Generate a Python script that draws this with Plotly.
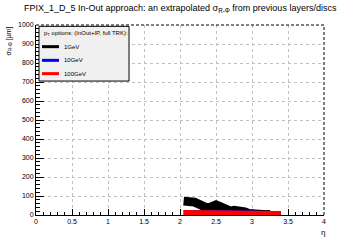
import plotly.graph_objects as go

# ---- data ----
eta_black = [2.05, 2.10, 2.15, 2.20, 2.25, 2.30, 2.35, 2.40, 2.45, 2.50, 2.55, 2.60, 2.65,
             2.70, 2.75, 2.80, 2.85, 2.90, 2.95, 3.00, 3.05, 3.10, 3.15, 3.20, 3.25]
sigma_1gev = [73, 73, 72, 68, 59, 46, 42, 37, 47, 53, 45, 32, 20,
              20, 24, 24, 24, 16, 8, 5, 3, 3, 2, 2, 2]

eta_hi = [2.05, 2.10, 2.15, 2.20, 2.25, 2.30, 2.35, 2.40, 2.45, 2.50, 2.55, 2.60, 2.65, 2.70,
          2.75, 2.80, 2.85, 2.90, 2.95, 3.00, 3.05, 3.10, 3.15, 3.20, 3.25, 3.30, 3.35, 3.40]
sigma_10gev = [10, 10, 13, 13, 10, 10, 10, 10, 10, 10, 10, 10, 13, 13,
               13, 10, 10, 10, 8, 8, 8, 5, 5, 5, 5, 5, 5, 5]
sigma_100gev = [10, 10, 10, 10, 10, 10, 10, 10, 10, 10, 10, 10, 10, 10,
                10, 10, 10, 10, 8, 8, 8, 5, 5, 5, 5, 5, 5, 5]

series_names = ["1GeV", "10GeV", "100GeV"]
series_colors = ["#000000", "#0000ff", "#ff0000"]
x_ticks = [0, 0.5, 1, 1.5, 2, 2.5, 3, 3.5, 4]
x_ticklabels = ["0", "0.5", "1", "1.5", "2", "2.5", "3", "3.5", "4"]
y_ticks = [0, 100, 200, 300, 400, 500, 600, 700, 800, 900, 1000]

FONT = "Liberation Sans, Arial, Helvetica, sans-serif"

fig = go.Figure()
fig.add_trace(go.Scatter(x=eta_black, y=sigma_1gev, mode="lines", name=series_names[0],
                         line=dict(color=series_colors[0], width=9)))
fig.add_trace(go.Scatter(x=eta_hi, y=sigma_10gev, mode="lines", name=series_names[1],
                         line=dict(color=series_colors[1], width=6)))
fig.add_trace(go.Scatter(x=eta_hi, y=sigma_100gev, mode="lines", name=series_names[2],
                         line=dict(color=series_colors[2], width=6)))

fig.update_layout(
    width=360, height=240,
    margin=dict(l=36, r=36, t=25, b=25),
    paper_bgcolor="white", plot_bgcolor="white",
    showlegend=False,
    font=dict(family=FONT, size=7, color="black"),
)

fig.update_xaxes(
    range=[0, 4], tickvals=x_ticks, ticktext=x_ticklabels,
    ticks="inside", ticklen=6, tickwidth=1, tickcolor="black",
    minor=dict(dtick=0.1, ticks="inside", ticklen=3, tickcolor="black", showgrid=False),
    showline=True, linecolor="black", linewidth=1, mirror=False,
    showgrid=True, gridcolor="#c0c0c0", griddash="dot", gridwidth=1,
    zeroline=False, tickfont=dict(size=7, family=FONT), layer="below traces",
)
fig.update_yaxes(
    range=[0, 1000], tickvals=y_ticks,
    ticks="inside", ticklen=8, tickwidth=1, tickcolor="black",
    minor=dict(dtick=20, ticks="inside", ticklen=4, tickcolor="black", showgrid=False),
    showline=True, linecolor="black", linewidth=1, mirror=False,
    showgrid=True, gridcolor="#c0c0c0", griddash="dot", gridwidth=1,
    zeroline=False, tickfont=dict(size=7, family=FONT), layer="below traces",
)

shapes = [
    # dashed top and right frame
    dict(type="line", xref="paper", yref="paper", x0=0, x1=1, y0=1, y1=1,
         line=dict(color="black", width=1, dash="3px,2px")),
    dict(type="line", xref="paper", yref="paper", x0=1, x1=1, y0=0, y1=1,
         line=dict(color="black", width=1, dash="3px,2px")),
    # legend box
    dict(type="rect", xref="paper", yref="paper", x0=0.0104, x1=0.323, y0=0.705, y1=0.993,
         fillcolor="#f0f0f0", line=dict(color="black", width=1)),
]
legend_y = [0.886, 0.814, 0.744]
annotations = [
    dict(text="FPIX_1_D_5 In-Out approach: an extrapolated σ<sub>R-Φ</sub> from previous layers/discs",
         xref="paper", yref="paper", x=0.5, y=1, yshift=17, xanchor="center", yanchor="middle",
         showarrow=False, font=dict(size=9, family=FONT)),
    dict(text="σ<sub>R-Φ</sub> [µm]", xref="paper", yref="paper", x=-0.097, y=1,
         xanchor="center", yanchor="top", textangle=-90, showarrow=False,
         font=dict(size=7, family=FONT)),
    dict(text="η", xref="paper", yref="paper", x=0.995, y=0, yshift=-17,
         xanchor="center", yanchor="middle", showarrow=False, font=dict(size=8, family=FONT)),
    dict(text="p<sub>T</sub> options: (InOut+IP, full TRK):", xref="paper", yref="paper",
         x=0.021, y=0.957, xanchor="left", yanchor="middle", showarrow=False,
         font=dict(size=6, family=FONT)),
]
for name, col, yy in zip(series_names, series_colors, legend_y):
    shapes.append(dict(type="line", xref="paper", yref="paper", x0=0.0208, x1=0.0799,
                       y0=yy, y1=yy, line=dict(color=col, width=3)))
    annotations.append(dict(text=name, xref="paper", yref="paper", x=0.09, y=yy,
                            xanchor="left", yanchor="middle", showarrow=False,
                            font=dict(size=6, family=FONT)))

fig.update_layout(shapes=shapes, annotations=annotations)
fig.write_html("out.html")
